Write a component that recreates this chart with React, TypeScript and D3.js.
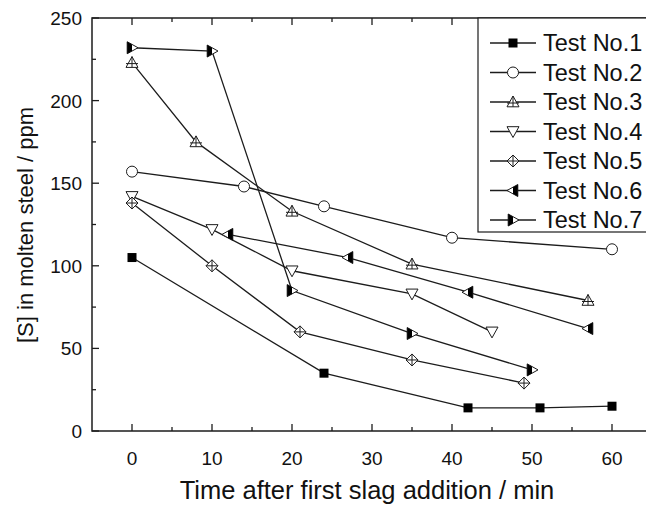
import React, { useEffect, useRef } from "react";
import * as d3 from "d3";

// series
const testNames = ["Test No.1", "Test No.2", "Test No.3", "Test No.4", "Test No.5", "Test No.6", "Test No.7"];
const markerTypes = ["square", "circle", "triUpCross", "triDown", "diamondCross", "triLeftHalf", "triRightHalf"];

const test1Time = [0, 24, 42, 51, 60];
const test1S = [105, 35, 14, 14, 15];
const test2Time = [0, 14, 24, 40, 60];
const test2S = [157, 148, 136, 117, 110];
const test3Time = [0, 8, 20, 35, 57];
const test3S = [223, 175, 133, 101, 79];
const test4Time = [0, 10, 20, 35, 45];
const test4S = [142, 122, 97, 83, 60];
const test5Time = [0, 10, 21, 35, 49];
const test5S = [138, 100, 60, 43, 29];
const test6Time = [12, 27, 42, 57];
const test6S = [119, 105, 84, 62];
const test7Time = [0, 10, 20, 35, 50];
const test7S = [232, 230, 85, 59, 37];

const seriesTimes = [test1Time, test2Time, test3Time, test4Time, test5Time, test6Time, test7Time];
const seriesValues = [test1S, test2S, test3S, test4S, test5S, test6S, test7S];

const xTicks = [0, 10, 20, 30, 40, 50, 60];
const yTicks = [0, 50, 100, 150, 200, 250];

const W = 646;
const H = 505;
const INK = "#1c1c1c";
const FONT = "'Liberation Sans', Arial, Helvetica, sans-serif";

const drawMarker = (g: any, type: string, cx: number, cy: number) => {
  const m = g.append("g").attr("transform", `translate(${cx},${cy})`);
  const s = 6;
  if (type === "square") {
    m.append("rect").attr("x", -4.5).attr("y", -4.5).attr("width", 9).attr("height", 9).attr("fill", "#000");
  } else if (type === "circle") {
    m.append("circle").attr("r", 5.5).attr("fill", "#fff").attr("stroke", INK).attr("stroke-width", 1);
  } else if (type === "triUpCross") {
    m.append("path").attr("d", `M0,${-s}L${s},${s * 0.8}L${-s},${s * 0.8}Z`).attr("fill", "#fff").attr("stroke", INK);
    m.append("path").attr("d", `M0,${-s}V${s * 0.8}M${-s},1H${s}`).attr("stroke", INK);
  } else if (type === "triDown") {
    m.append("path").attr("d", `M${-s},${-s * 0.8}L${s},${-s * 0.8}L0,${s}Z`).attr("fill", "#fff").attr("stroke", INK);
  } else if (type === "diamondCross") {
    m.append("path").attr("d", `M0,${-s}L${s},0L0,${s}L${-s},0Z`).attr("fill", "#fff").attr("stroke", INK);
    m.append("path").attr("d", `M0,${-s}V${s}M${-s},0H${s}`).attr("stroke", INK);
  } else if (type === "triLeftHalf") {
    m.append("path").attr("d", `M${-s},0L${s * 0.8},${-s}L${s * 0.8},${s}Z`).attr("fill", "#fff").attr("stroke", INK);
    m.append("path").attr("d", `M0,${-s * 0.55}L${s * 0.8},${-s}L${s * 0.8},${s}L0,${s * 0.55}Z`).attr("fill", "#000");
  } else if (type === "triRightHalf") {
    m.append("path").attr("d", `M${s},0L${-s * 0.8},${-s}L${-s * 0.8},${s}Z`).attr("fill", "#fff").attr("stroke", INK);
    m.append("path").attr("d", `M0,${-s * 0.55}L${-s * 0.8},${-s}L${-s * 0.8},${s}L0,${s * 0.55}Z`).attr("fill", "#000");
  }
};

const App = () => {
  const ref = useRef<SVGSVGElement>(null);

  useEffect(() => {
    const svg = d3.select(ref.current);
    svg.selectAll("*").remove();

    const x = d3.scaleLinear().domain([-5, 65]).range([92, 652]);
    const y = d3.scaleLinear().domain([0, 250]).range([431, 18]);

    const frame = svg.append("g").attr("stroke", INK).attr("stroke-width", 1.5).attr("fill", "none");
    frame.append("path").attr("d", `M${x(65)},${y(250)}H${x(-5)}V${y(0)}H${x(65)}`);

    // inward ticks on all visible sides
    const ticks = svg.append("g").attr("stroke", INK).attr("stroke-width", 1.3);
    d3.range(0, 61, 5).forEach(v => {
      const len = v % 10 === 0 ? 7 : 4;
      ticks.append("line").attr("x1", x(v)).attr("x2", x(v)).attr("y1", y(0)).attr("y2", y(0) - len);
      ticks.append("line").attr("x1", x(v)).attr("x2", x(v)).attr("y1", y(250)).attr("y2", y(250) + len);
    });
    d3.range(0, 251, 25).forEach(v => {
      const len = v % 50 === 0 ? 7 : 4;
      ticks.append("line").attr("x1", x(-5)).attr("x2", x(-5) + len).attr("y1", y(v)).attr("y2", y(v));
    });

    const labels = svg.append("g").attr("font-family", FONT).attr("fill", "#111");
    labels.selectAll("text.xt").data(xTicks).enter().append("text")
      .attr("class", "xt").attr("x", d => x(d)).attr("y", 465)
      .attr("text-anchor", "middle").attr("font-size", 19).text(d => d);
    labels.selectAll("text.yt").data(yTicks).enter().append("text")
      .attr("class", "yt").attr("x", 82).attr("y", d => y(d) + 7)
      .attr("text-anchor", "end").attr("font-size", 19).text(d => d);

    labels.append("text").attr("x", 367).attr("y", 499).attr("text-anchor", "middle")
      .attr("font-size", 25.5).text("Time after first slag addition / min");
    labels.append("text").attr("transform", `translate(33,225) rotate(-90)`).attr("text-anchor", "middle")
      .attr("font-size", 22).text("[S] in molten steel / ppm");

    const line = d3.line<[number, number]>().x(d => x(d[0])).y(d => y(d[1]));
    const plot = svg.append("g");
    seriesTimes.forEach((times, i) => {
      const pts = times.map((t, j) => [t, seriesValues[i][j]] as [number, number]);
      plot.append("path").attr("d", line(pts)).attr("fill", "none").attr("stroke", INK).attr("stroke-width", 1.3);
    });
    seriesTimes.forEach((times, i) => {
      times.forEach((t, j) => drawMarker(plot, markerTypes[i], x(t), y(seriesValues[i][j])));
    });

    // legend
    const legend = svg.append("g");
    legend.append("rect").attr("x", 478).attr("y", 18).attr("width", 200).attr("height", 214)
      .attr("fill", "#fff").attr("stroke", INK).attr("stroke-width", 1.2);
    testNames.forEach((name, i) => {
      const ly = 43 + i * 29.5;
      legend.append("line").attr("x1", 490).attr("x2", 536).attr("y1", ly).attr("y2", ly)
        .attr("stroke", INK).attr("stroke-width", 1.3);
      drawMarker(legend, markerTypes[i], 513, ly);
      legend.append("text").attr("x", 543).attr("y", ly + 8).attr("font-family", FONT)
        .attr("font-size", 23.5).attr("fill", "#111").text(name);
    });
  }, []);

  return (
    <svg ref={ref} width={W} height={H}
      style={{ position: "absolute", left: 0, top: 0, background: "#fff" }} />
  );
};

export default App;
